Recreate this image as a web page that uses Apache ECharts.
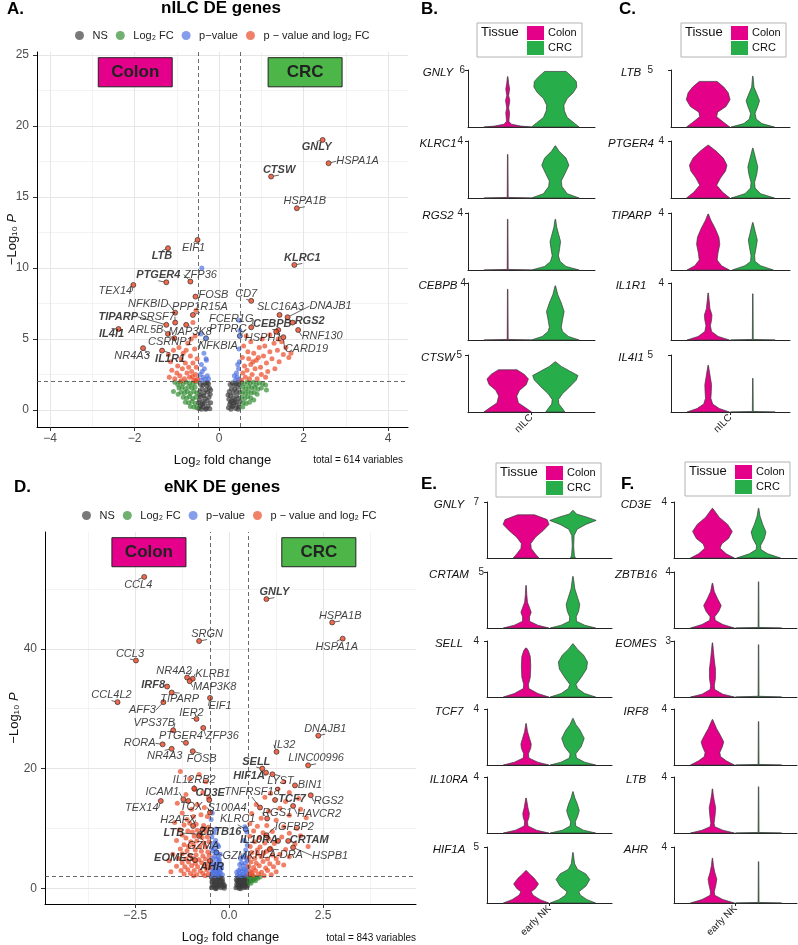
<!DOCTYPE html>
<html>
<head>
<meta charset="utf-8">
<script src="https://cdn.jsdelivr.net/npm/echarts@6/dist/echarts.min.js"></script>
<style>
html, body { margin: 0; padding: 0; background: #fff; }
#main { width: 798px; height: 945px; }
</style>
</head>
<body>
<div id="main"></div>
<script>
// ---- volcano A (nILC): [log2FC, -log10 P], one array per EnhancedVolcano colour class
const nilcNS = [
  [-0.48,0.1],[-0.45,0.3],[-0.42,0.05],[-0.38,0.2],[-0.35,0.45],[-0.3,0.1],[-0.26,0.3],[-0.22,0.08],[-0.2,0.5],
  [-0.47,0.7],[-0.43,0.95],[-0.39,0.6],[-0.33,0.8],[-0.28,0.65],[-0.24,0.9],[-0.21,1.1],
  [-0.46,1.3],[-0.41,1.5],[-0.36,1.2],[-0.31,1.4],[-0.27,1.25],[-0.23,1.55],
  [-0.44,1.8],[-0.38,1.75],[-0.34,1.9],[-0.29,1.7],[-0.25,1.85],[-0.2,1.4],
  [-0.4,0.4],[-0.32,0.05],[-0.49,0.5],[-0.36,1.0],[-0.28,1.95],[-0.46,1.05],
  [0.22,0.15],[0.25,0.4],[0.28,0.05],[0.31,0.25],[0.35,0.5],[0.39,0.1],[0.43,0.35],[0.47,0.2],[0.5,0.6],
  [0.23,0.75],[0.27,1.0],[0.3,0.65],[0.34,0.85],[0.38,0.7],[0.42,1.0],[0.46,0.8],
  [0.24,1.3],[0.29,1.5],[0.33,1.2],[0.37,1.45],[0.41,1.3],[0.45,1.6],[0.49,1.25],
  [0.26,1.8],[0.31,1.9],[0.36,1.75],[0.4,1.85],[0.44,1.95],[0.48,1.8],
  [0.33,0.3],[0.4,0.55],[0.27,0.55],[0.45,0.05],[0.21,1.05]
];
const nilcFC = [
  [-1.05,1.95],[-0.98,1.8],[-0.92,1.95],[-0.85,1.85],[-0.78,1.97],[-0.7,1.9],[-0.62,1.85],[-0.55,1.95],
  [-0.95,1.55],[-0.88,1.6],[-0.8,1.5],[-0.72,1.65],[-0.65,1.55],[-0.57,1.6],
  [-0.9,1.25],[-0.82,1.2],[-0.75,1.3],[-0.68,1.15],[-0.6,1.3],[-0.53,1.2],
  [-0.85,0.9],[-0.77,0.85],[-0.7,0.95],[-0.62,0.8],[-0.55,0.9],[-0.8,0.55],[-0.72,0.5],[-0.64,0.6],[-0.56,0.45],
  [-0.68,0.25],[-0.6,0.2],[-0.53,0.15],[-1.08,1.3],[-0.97,1.1],
  [0.53,1.95],[0.6,1.85],[0.67,1.97],[0.74,1.88],[0.81,1.95],[0.88,1.8],[0.95,1.9],[1.03,1.85],[1.1,1.75],
  [0.56,1.6],[0.63,1.5],[0.7,1.65],[0.77,1.55],[0.84,1.6],[0.92,1.45],[1.0,1.55],
  [0.55,1.25],[0.62,1.15],[0.69,1.3],[0.76,1.2],[0.83,1.25],[0.9,1.1],
  [0.54,0.9],[0.61,0.8],[0.68,0.95],[0.75,0.85],[0.82,0.7],[0.57,0.5],[0.64,0.45],[0.72,0.55],[0.56,0.2],[1.12,1.4]
];
const nilcP = [
  [-0.43,2.1],[-0.38,2.3],[-0.33,2.15],[-0.28,2.4],[-0.4,2.7],[-0.35,2.9],[-0.42,3.2],[-0.3,3.5],[-0.36,4.0],
  [-0.41,10.0],[-0.43,5.35],[-0.31,3.6],[-0.25,2.2],[-0.45,2.5],
  [0.38,2.1],[0.43,2.3],[0.47,2.15],[0.41,2.6],[0.46,2.9],[0.44,3.2],[0.48,3.4],[0.47,4.3],[0.49,5.6],[0.48,6.3],[0.36,2.4]
];
const nilcBoth = [
  [-1.18,2.3],[-1.12,2.8],[-1.15,3.4],[-1.05,2.2],[-1.0,2.6],[-0.98,3.1],[-0.93,2.4],[-0.9,3.6],[-0.87,2.9],
  [-0.82,2.2],[-0.8,3.3],[-0.78,4.2],[-0.76,2.6],[-0.72,3.0],[-0.7,2.3],[-0.68,3.8],[-0.65,2.7],[-0.62,3.3],
  [-0.6,2.1],[-0.58,4.3],[-0.56,2.5],[-0.54,3.0],[-0.52,3.6],[-0.51,2.2],[-0.57,5.2],[-0.62,6.15],[-0.95,4.4],
  [-1.08,4.2],[-0.85,4.0],[-0.74,4.7],[-0.66,5.0],[-0.9,2.05],[-0.55,2.05],[-0.63,2.35],[-1.2,3.9],[-0.55,7.0],
  [0.53,2.1],[0.56,2.6],[0.6,3.1],[0.62,2.3],[0.66,2.8],[0.7,3.6],[0.72,2.2],[0.75,3.2],[0.78,2.5],[0.82,4.0],
  [0.85,2.9],[0.88,3.5],[0.9,2.2],[0.95,4.4],[0.98,3.0],[1.0,2.5],[1.05,3.8],[1.08,4.5],[1.12,3.3],[1.15,2.7],
  [1.2,4.1],[1.25,3.6],[1.3,4.7],[1.32,2.9],[1.38,4.2],[1.42,3.4],[1.48,4.8],[1.52,3.9],[1.58,4.4],[1.65,3.7],
  [1.7,4.0],[0.58,4.5],[0.68,4.1],[0.8,3.4],[0.93,3.7],[1.1,2.3],[0.64,5.2],[1.2,5.3],[1.4,5.0],[0.55,3.7],
  [1.02,5.0],[0.75,4.8]
];
const nilcLabeled = [
  ['GNLY',2.45,19.01],['HSPA1A',2.59,17.37],['CTSW',1.23,16.43],['HSPA1B',1.84,14.2],['EIF1',-0.51,11.97],
  ['LTB',-1.21,11.39],['KLRC1',1.78,10.21],['PTGER4',-1.25,8.99],['ZFP36',-0.68,9.04],['TEX14',-2.03,8.8],
  ['FOSB',-0.56,7.98],['CD7',0.76,7.68],['NFKBID',-1.04,6.85],['PPP1R15A',-0.62,6.69],['SLC16A3',1.43,6.69],
  ['DNAJB1',1.62,6.53],['TIPARP',-1.25,5.99],['SRSF7',-1.04,6.15],['RGS2',1.74,6.15],['FCER1G',0.76,5.82],
  ['CEBPB',1.4,5.63],['HSPH1',1.35,5.51],['RNF130',1.87,5.63],['CARD19',1.52,5.12],['ARL5B',-1.21,5.35],
  ['MAP3K8',-0.78,5.99],['PTPRC',0.49,5.21],['IL4I1',-2.38,5.7],['CSRNP1',-1.06,5.05],['NFKBIA',-0.31,5.05],
  ['NR4A3',-1.8,4.35],['IL1R1',-1.35,4.18]
];

// ---- volcano D (eNK)
const enkNS = [
  [-0.47,0.1],[-0.42,0.3],[-0.37,0.05],[-0.32,0.2],[-0.27,0.4],[-0.22,0.1],[-0.16,0.3],[-0.13,0.05],
  [-0.45,0.6],[-0.4,0.8],[-0.35,0.55],[-0.3,0.75],[-0.25,0.6],[-0.2,0.85],[-0.15,0.65],
  [-0.46,1.1],[-0.41,1.3],[-0.36,1.05],[-0.31,1.25],[-0.26,1.15],[-0.21,1.4],[-0.17,1.1],
  [-0.44,1.6],[-0.38,1.8],[-0.33,1.55],[-0.28,1.75],[-0.23,1.9],[-0.18,1.6],[-0.48,1.9],[-0.35,-0.05],[-0.12,0.45],[-0.29,1.95],
  [0.18,0.1],[0.22,0.35],[0.26,0.05],[0.3,0.25],[0.34,0.5],[0.38,0.1],[0.42,0.3],[0.46,0.15],[0.49,0.45],
  [0.2,0.7],[0.24,0.9],[0.28,0.6],[0.32,0.8],[0.36,0.65],[0.4,0.95],[0.44,0.75],[0.48,0.9],
  [0.21,1.2],[0.25,1.4],[0.29,1.1],[0.33,1.35],[0.37,1.2],[0.41,1.5],[0.45,1.3],
  [0.23,1.75],[0.27,1.9],[0.31,1.65],[0.35,1.85],[0.39,1.7],[0.43,1.95],[0.47,1.6],[0.5,1.2],[0.3,-0.05],[0.19,1.5]
];
const enkFC = [
  [0.52,1.9],[0.57,1.7],[0.62,1.95],[0.66,1.6],[0.71,1.85],[0.76,1.7],[0.55,1.4],[0.6,1.25],[0.65,1.45],
  [0.53,1.05],[0.58,0.85],[0.82,1.9],[0.7,1.3]
];
const enkP = [
  [-0.48,2.2],[-0.43,2.5],[-0.38,2.1],[-0.33,2.4],[-0.28,2.2],[-0.23,2.6],[-0.46,3.0],[-0.4,3.3],[-0.35,2.9],
  [-0.3,3.2],[-0.25,3.0],[-0.2,3.4],[-0.47,3.9],[-0.42,4.3],[-0.37,3.8],[-0.32,4.1],[-0.27,4.5],[-0.22,3.9],
  [-0.45,5.0],[-0.39,5.4],[-0.34,4.9],[-0.29,5.3],[-0.24,5.7],[-0.44,6.2],[-0.38,6.6],[-0.33,6.1],[-0.28,7.0],
  [-0.42,7.5],[-0.36,8.0],[-0.31,7.3],[-0.46,8.6],[-0.4,9.3],[-0.35,9.9],[-0.18,2.3],[-0.3,2.7],[-0.42,2.8],
  [-0.26,4.8],[-0.47,6.8],[-0.48,11.5],[-0.45,12.6],
  [0.22,2.2],[0.27,2.5],[0.32,2.1],[0.37,2.4],[0.42,2.2],[0.47,2.6],[0.25,3.0],[0.3,3.3],[0.35,2.9],[0.4,3.2],
  [0.45,3.0],[0.49,3.5],[0.28,4.0],[0.33,4.3],[0.38,3.8],[0.43,4.2],[0.48,4.6],[0.36,5.2],[0.41,5.6],[0.46,5.0],
  [0.44,6.4],[0.48,7.2],[0.4,8.0],[0.47,9.4],[0.42,10.3],[0.2,2.7],[0.3,5.0]
];
const enkBoth = [
  [-1.3,19.5],[-1.05,18.3],[-0.8,19.0],[-0.62,17.8],[-0.92,16.5],[-1.15,15.7],[-0.7,16.0],[-0.55,15.2],
  [-1.38,14.2],[-0.85,14.0],[-1.0,13.2],[-0.66,13.5],[-1.25,12.6],[-0.75,12.3],[-0.58,12.0],[-0.95,12.0],[-1.12,11.5],
  [-1.45,11.0],[-1.2,10.6],[-1.05,10.9],[-0.88,10.7],[-0.68,10.5],[-0.55,10.2],[-1.32,9.8],[-1.1,9.6],[-0.98,9.4],
  [-0.85,9.7],[-0.62,9.5],[-1.25,8.9],[-1.15,8.4],[-0.93,8.7],[-0.72,8.5],[-0.58,8.6],[-1.4,8.0],[-1.02,7.8],
  [-0.86,7.9],[-0.68,7.6],[-0.54,7.8],[-1.2,7.3],[-1.08,7.0],[-0.95,7.2],[-0.78,7.0],[-0.62,6.9],[-1.3,6.6],
  [-1.12,6.3],[-0.9,6.4],[-0.74,6.2],[-0.57,6.1],
  [-1.5,5.7],[-1.25,5.8],[-1.05,5.5],[-0.88,5.6],[-0.7,5.4],[-0.53,5.5],[-1.35,5.0],[-1.15,4.9],[-0.98,5.0],
  [-0.8,4.8],[-0.63,4.9],[-1.25,4.3],[-1.08,4.4],[-0.9,4.2],[-0.73,4.3],[-0.56,4.1],[-1.4,3.7],[-1.18,3.6],
  [-1.0,3.8],[-0.84,3.6],[-0.66,3.7],[-0.52,3.5],[-1.28,3.0],[-1.1,3.1],[-0.93,3.0],[-0.77,2.9],[-0.6,3.1],
  [-1.2,2.4],[-1.03,2.5],[-0.86,2.3],[-0.7,2.5],[-0.55,2.4],[-0.95,2.1],[-0.64,2.1],[-1.6,4.6],[-1.55,2.8],
  [1.45,17.8],[1.3,16.6],[1.6,16.0],[1.1,15.9],[1.85,15.0],[0.95,15.2],[1.5,14.5],[0.72,14.0],[1.35,13.4],
  [1.9,13.2],[1.05,12.9],[0.6,12.5],[1.6,12.2],[0.85,11.7],[1.25,11.4],[2.05,11.8],
  [0.55,10.8],[0.75,10.4],[1.0,10.5],[1.45,10.3],[1.8,10.0],[0.65,9.6],[0.9,9.3],[1.15,9.5],[1.6,9.2],
  [0.55,8.7],[0.8,8.5],[1.05,8.3],[1.4,8.6],[1.9,8.8],[0.68,7.8],[0.95,7.6],[1.2,7.5],[1.75,7.4],[0.56,7.0],
  [0.82,6.9],[1.1,6.7],[1.5,6.5],[2.1,7.0],
  [0.6,6.0],[0.75,5.8],[0.92,5.9],[1.15,5.6],[1.35,5.7],[0.53,5.2],[0.68,5.0],[0.85,5.3],[1.02,4.9],[1.25,5.0],
  [1.6,5.3],[0.58,4.4],[0.72,4.2],[0.9,4.5],[1.08,4.1],[1.3,4.3],[0.52,3.7],[0.65,3.5],[0.8,3.8],[0.97,3.4],
  [1.18,3.6],[1.45,3.9],[0.57,2.9],[0.7,3.0],[0.86,2.7],[1.02,3.0],[1.25,2.8],[0.53,2.3],[0.64,2.2],[0.78,2.4],
  [0.93,2.1],[1.12,2.3],[0.6,2.6],[0.75,6.4],[1.0,6.2]
];
const enkLabeled = [
  ['CCL4',-2.26,52.0],['GNLY',0.99,48.3],['HSPA1B',2.74,44.4],['HSPA1A',3.02,41.7],['SRGN',-0.8,41.3],
  ['CCL3',-2.48,38.05],['NR4A2',-1.12,35.2],['KLRB1',-0.97,35.0],['MAP3K8',-1.05,34.6],['IRF8',-1.65,33.7],
  ['CCL4L2',-2.97,31.1],['TIPARP',-1.53,32.7],['AFF3',-1.75,31.1],['EIF1',-0.51,31.8],['IER2',-0.87,28.3],
  ['VPS37B',-1.49,26.4],['ZFP36',-0.69,26.8],['PTGER4',-1.15,24.3],['RORA',-1.77,24.05],['NR4A3',-1.53,23.3],
  ['FOSB',-0.97,22.9],['DNAJB1',2.37,25.5],['IL32',1.26,22.8],['LINC00996',2.1,20.55],['SELL',0.88,20.0],
  ['HIF1A',0.98,19.33],['LYST',1.15,19.05],['BIN1',1.75,17.2],['TNFRSF18',0.82,13.5],['RGS2',2.17,15.55],
  ['TCF7',1.22,14.77],['HAVCR2',1.7,13.77],['RGS1',1.01,11.67],['IL12RB2',-0.93,16.67],['CD3E',-0.53,14.77],
  ['ICAM1',-1.22,14.88],['TOX',-1.09,14.6],['S100A4',-0.51,12.67],['TEX14',-1.82,14.6],['H2AFX',-0.96,10.43],
  ['KLRC1',0.44,9.88],['LTB',-0.78,9.05],['ZBTB16',-0.71,9.88],['IGFBP2',0.99,8.88],['IL10RA',1.3,7.93],
  ['CRTAM',1.57,7.93],['GZMA',-0.8,8.77],['GZMK',-0.34,6.0],['HLA-DRA',1.08,6.55],['HSPB1',1.7,6.83],
  ['EOMES',-0.91,4.72],['AHR',-0.51,4.6]
];

// ---- violins: each profile is [expression, half width relative to the widest violin]
const nilcGenesB = ['GNLY', 'KLRC1', 'RGS2', 'CEBPB', 'CTSW'];
const nilcMaxB = [6, 4, 4, 4, 5];
const nilcColonB = [
  [[0,1],[0.1,0.55],[0.3,0.15],[0.6,0.05],[1.5,0.08],[2,0.04],[2.8,0.09],[3.3,0.04],[4,0.08],[4.6,0.04],[5.3,0.01]],
  [[0,1],[0.04,0.02],[3.05,0.01]],
  [[0,1],[0.04,0.02],[3.56,0.01]],
  [[0,1],[0.04,0.02],[3.56,0.01]],
  [[0,1],[0.3,0.8],[0.8,0.45],[1.4,0.38],[1.9,0.5],[2.4,0.78],[2.9,0.87],[3.3,0.7],[3.7,0.39]]
];
const nilcCrcB = [
  [[0,1],[0.4,0.8],[1.0,0.5],[1.7,0.38],[2.3,0.36],[3.0,0.5],[3.6,0.75],[4.2,0.9],[4.8,0.88],[5.3,0.7],[5.85,0.45]],
  [[0,1],[0.3,0.5],[0.8,0.28],[1.2,0.25],[1.7,0.4],[2.3,0.57],[2.8,0.45],[3.3,0.15],[3.66,0.01]],
  [[0,1],[0.25,0.45],[0.6,0.2],[1.0,0.13],[1.5,0.18],[2.0,0.22],[2.5,0.14],[3.0,0.06],[3.56,0.01]],
  [[0,1],[0.25,0.55],[0.6,0.3],[0.9,0.25],[1.4,0.3],[2.0,0.37],[2.6,0.25],[3.2,0.1],[3.8,0.01]],
  [[0,0.4],[0.3,0.3],[0.7,0.15],[1.1,0.13],[1.6,0.3],[2.2,0.6],[2.8,0.88],[3.2,0.95],[3.6,0.6],[4.0,0.25],[4.4,0.01]]
];
const nilcGenesC = ['LTB', 'PTGER4', 'TIPARP', 'IL1R1', 'IL4I1'];
const nilcMaxC = [5, 4, 4, 4, 5];
const nilcColonC = [
  [[0,0.97],[0.4,0.7],[0.9,0.38],[1.3,0.42],[1.8,0.8],[2.4,0.98],[3.0,0.9],[3.5,0.7],[4.0,0.4]],
  [[0,0.97],[0.4,0.65],[0.9,0.38],[1.4,0.55],[1.9,0.78],[2.3,0.84],[2.8,0.68],[3.3,0.35],[3.7,0.02]],
  [[0,0.95],[0.3,0.6],[0.7,0.4],[1.2,0.44],[1.8,0.52],[2.3,0.48],[2.9,0.32],[3.5,0.12],[3.93,0.01]],
  [[0,0.95],[0.25,0.45],[0.6,0.15],[1.0,0.1],[1.4,0.15],[1.75,0.17],[2.2,0.08],[2.8,0.04],[3.3,0.01]],
  [[0,0.95],[0.3,0.5],[0.7,0.2],[1.2,0.12],[1.8,0.14],[2.4,0.15],[3.0,0.1],[3.6,0.05],[4.1,0.01]]
];
const nilcCrcC = [
  [[0,0.97],[0.3,0.4],[0.7,0.15],[1.2,0.1],[1.8,0.22],[2.3,0.3],[2.8,0.2],[3.5,0.05],[4.45,0.01]],
  [[0,0.97],[0.3,0.35],[0.7,0.1],[1.1,0.08],[1.7,0.18],[2.2,0.22],[2.8,0.12],[3.5,0.01]],
  [[0,0.92],[0.3,0.35],[0.6,0.1],[1.0,0.08],[1.6,0.15],[2.1,0.2],[2.6,0.12],[3.33,0.01]],
  [[0,1],[0.04,0.02],[3.24,0.01]],
  [[0,1],[0.04,0.02],[2.95,0.01]]
];
const enkGenesE = ['GNLY', 'CRTAM', 'SELL', 'TCF7', 'IL10RA', 'HIF1A'];
const enkMaxE = [7, 5, 4, 4, 4, 5];
const enkColonE = [
  [[0,0.55],[0.5,0.4],[1.2,0.22],[1.8,0.2],[2.6,0.4],[3.4,0.72],[4.2,0.98],[4.8,0.9],[5.4,0.36]],
  [[0,0.97],[0.25,0.5],[0.6,0.15],[1.0,0.15],[1.4,0.22],[1.8,0.15],[2.3,0.06],[3.0,0.03],[3.8,0.01]],
  [[0,0.97],[0.25,0.5],[0.6,0.12],[0.9,0.1],[1.4,0.18],[2.2,0.2],[2.9,0.18],[3.3,0.1],[3.5,0.02]],
  [[0,0.97],[0.2,0.5],[0.5,0.12],[0.8,0.1],[1.2,0.2],[1.5,0.22],[1.9,0.15],[2.4,0.06],[2.96,0.01]],
  [[0,0.97],[0.2,0.45],[0.5,0.08],[0.8,0.06],[1.1,0.12],[1.4,0.14],[1.8,0.08],[2.5,0.01]],
  [[0,0.97],[0.3,0.6],[0.7,0.3],[1.0,0.22],[1.3,0.4],[1.7,0.53],[2.2,0.35],[2.6,0.15],[2.9,0.01]]
];
const enkCrcE = [
  [[0,0.1],[0.3,0.06],[1.5,0.03],[2.8,0.05],[3.6,0.18],[4.2,0.55],[4.7,0.99],[5.1,0.6],[5.5,0.15],[5.95,0.01]],
  [[0,0.97],[0.25,0.5],[0.6,0.15],[1.0,0.14],[1.5,0.24],[2.1,0.29],[2.7,0.2],[3.5,0.08],[4.6,0.01]],
  [[0,0.97],[0.25,0.5],[0.6,0.2],[0.9,0.13],[1.4,0.35],[2.0,0.58],[2.5,0.62],[3.0,0.45],[3.4,0.2],[3.8,0.01]],
  [[0,0.97],[0.2,0.5],[0.5,0.15],[0.8,0.12],[1.3,0.35],[1.9,0.48],[2.5,0.3],[2.9,0.12],[3.33,0.01]],
  [[0,0.97],[0.2,0.45],[0.5,0.12],[0.8,0.1],[1.2,0.2],[1.6,0.27],[2.1,0.18],[2.5,0.08],[2.95,0.01]],
  [[0,0.97],[0.3,0.6],[0.7,0.32],[1.0,0.25],[1.5,0.55],[2.1,0.72],[2.6,0.55],[3.0,0.2],[3.5,0.07],[4.5,0.01]]
];
const enkGenesF = ['CD3E', 'ZBTB16', 'EOMES', 'IRF8', 'LTB', 'AHR'];
const enkMaxF = [4, 4, 3, 4, 4, 4];
const enkColonF = [
  [[0,0.95],[0.3,0.6],[0.7,0.33],[1.0,0.4],[1.4,0.7],[1.9,0.86],[2.4,0.66],[2.9,0.3],[3.55,0.01]],
  [[0,0.95],[0.25,0.45],[0.55,0.12],[0.8,0.1],[1.2,0.28],[1.6,0.38],[2.1,0.22],[2.6,0.08],[3.2,0.01]],
  [[0,0.95],[0.15,0.45],[0.4,0.1],[0.6,0.08],[1.0,0.13],[1.5,0.13],[2.0,0.08],[2.5,0.04],[2.9,0.01]],
  [[0,0.95],[0.3,0.6],[0.6,0.35],[0.9,0.32],[1.3,0.43],[1.65,0.49],[2.1,0.35],[2.6,0.18],[3.25,0.01]],
  [[0,0.95],[0.2,0.45],[0.45,0.1],[0.7,0.07],[1.2,0.11],[1.8,0.14],[2.3,0.08],[2.8,0.03],[3.15,0.01]],
  [[0,0.95],[0.25,0.45],[0.55,0.1],[0.8,0.08],[1.3,0.15],[1.7,0.19],[2.2,0.1],[2.7,0.04],[3.2,0.01]]
];
const enkCrcF = [
  [[0,0.95],[0.3,0.4],[0.6,0.1],[0.9,0.09],[1.4,0.25],[1.85,0.32],[2.4,0.18],[3.0,0.06],[3.55,0.01]],
  [[0,1],[0.04,0.02],[3.3,0.01]],
  [[0,1],[0.04,0.02],[2.8,0.01]],
  [[0,1],[0.04,0.02],[3.1,0.01]],
  [[0,1],[0.04,0.02],[3.3,0.01]],
  [[0,1],[0.04,0.02],[2.95,0.01]]
];

// ---- layout (pixel offsets of gene labels from their points, annotation boxes in data units)
const nilcLabelOffset = {
  GNLY:[-6,7], HSPA1A:[29,-2], CTSW:[8,-7], HSPA1B:[8,-7], EIF1:[-4,8], LTB:[-6,8], KLRC1:[8,-7],
  PTGER4:[-8,-7], ZFP36:[10,-7], TEX14:[-18,6], FOSB:[18,-2], CD7:[-5,-7], NFKBID:[-27,-9],
  PPP1R15A:[7,-8], SLC16A3:[1,-8], DNAJB1:[43,-11], TIPARP:[-48,-8], SRSF7:[-18,-6], RGS2:[17,-2],
  FCER1G:[-20,-8], CEBPB:[-6,-6], HSPH1:[-13,6], RNF130:[24,6], CARD19:[23,12], ARL5B:[-22,-4],
  MAP3K8:[4,7], PTPRC:[-12,-7], IL4I1:[-7,5], CSRNP1:[-4,4], NFKBIA:[12,8], NR4A3:[-11,8], IL1R1:[8,8]
};
const enkLabelOffset = {
  CCL4:[-6,8], GNLY:[8,-7], HSPA1B:[8,-7], HSPA1A:[-6,8], SRGN:[8,-7], CCL3:[-6,-7], NR4A2:[-13,-7],
  KLRB1:[20,-5], MAP3K8:[25,6], IRF8:[-14,-2], CCL4L2:[-6,-7], TIPARP:[8,6], AFF3:[-21,8], EIF1:[10,8],
  IER2:[-5,-6], VPS37B:[-19,-7], ZFP36:[19,8], PTGER4:[-5,-7], RORA:[-23,-1], NR4A3:[-7,7], FOSB:[9,8],
  DNAJB1:[7,-7], IL32:[8,-7], LINC00996:[8,-7], SELL:[-6,-7], HIF1A:[-17,3], LYST:[8,7], BIN1:[15,0],
  TNFRSF18:[-8,-16], RGS2:[18,6], TCF7:[17,-1], HAVCR2:[26,8], RGS1:[10,-6], IL12RB2:[0,-9], CD3E:[1,-7],
  ICAM1:[-21,-7], TOX:[3,6], S100A4:[17,-5], TEX14:[-19,7], H2AFX:[-15,-6], KLRC1:[-8,-10], LTB:[-26,-1],
  ZBTB16:[18,3], IGFBP2:[28,-8], IL10RA:[-19,-1], CRTAM:[21,-1], GZMA:[4,10], GZMK:[22,3],
  'HLA-DRA':[9,6], HSPB1:[37,8], EOMES:[-21,-2], AHR:[2,6]
};
const nilcBoxes = [['Colon', -2.86, -1.11, 22.75, 24.8], ['CRC', 1.16, 2.91, 22.75, 24.8]];
const enkBoxes = [['Colon', -3.12, -1.15, 53.7, 58.55], ['CRC', 1.4, 3.37, 53.7, 58.55]];

const FONT = "'Liberation Sans', Arial, Helvetica, sans-serif";
const FC_CUT = 0.5, P_CUT = 2;
const CLASS_NAMES = ['NS', 'Log\u2082 FC', 'p\u2212value', 'p \u2212 value and log\u2082 FC'];
const CLASS_COLORS = ['#3a3a3a', '#2f8a2f', '#4b6fe0', '#ea4420'];
const TISSUE_COLORS = ['#e5008a', '#27ae4a'];
const BOX_COLORS = { Colon: '#e4008b', CRC: '#4cb748' };
const HALF = 0.225, DODGE = [0.775, 1.225];

const option = {
  animation: false,
  backgroundColor: '#fff',
  textStyle: { fontFamily: FONT },
  title: [], grid: [], xAxis: [], yAxis: [], legend: [], series: [], graphic: []
};

function pointClass(fc, p) {
  const big = Math.abs(fc) > FC_CUT, sig = p > P_CUT;
  return big && sig ? 3 : sig ? 2 : big ? 1 : 0;
}

function minus(s) { return String(s).replace('-', '\u2212'); }

function addVolcano(v) {
  const gi = option.grid.length;
  option.grid.push({ left: v.box[0], top: v.box[1], width: v.box[2], height: v.box[3] });
  option.xAxis.push({
    gridIndex: gi, type: 'value', min: v.xRange[0], max: v.xRange[1],
    name: 'Log\u2082 fold change', nameLocation: 'middle', nameGap: 27, nameMoveOverlap: false,
    nameTextStyle: { fontSize: 13, color: '#111' },
    axisLine: { onZero: false, lineStyle: { color: '#000', width: 1 } },
    axisTick: { customValues: v.xTicks, length: 4, lineStyle: { color: '#333' } },
    axisLabel: { customValues: v.xTicks, formatter: v.fmtX, fontSize: 12, color: '#4d4d4d', margin: 6 },
    splitLine: { show: false }
  });
  option.yAxis.push({
    gridIndex: gi, type: 'value', min: v.yRange[0], max: v.yRange[1],
    name: '\u2212Log\u2081\u2080 {i|P}', nameLocation: 'middle', nameGap: v.yNameGap, nameMoveOverlap: false,
    nameTextStyle: { fontSize: 13, color: '#111', rich: { i: { fontStyle: 'italic', fontSize: 13, color: '#111' } } },
    axisLine: { onZero: false, lineStyle: { color: '#000', width: 1 } },
    axisTick: { customValues: v.yTicks, length: 4, lineStyle: { color: '#333' } },
    axisLabel: { customValues: v.yTicks, fontSize: 12, color: '#4d4d4d', margin: 8 },
    splitLine: { show: false }
  });

  const gridLines = [].concat(
    v.xTicks.map(x => ({ xAxis: x, lineStyle: { width: 1 } })),
    v.xMinor.map(x => ({ xAxis: x, lineStyle: { width: 0.5 } })),
    v.yTicks.map(y => ({ yAxis: y, lineStyle: { width: 1 } })),
    v.yMinor.map(y => ({ yAxis: y, lineStyle: { width: 0.5 } }))
  );

  v.classes.forEach((pts, k) => {
    const s = {
      type: 'scatter', name: CLASS_NAMES[k], xAxisIndex: gi, yAxisIndex: gi,
      symbolSize: 5, silent: true, data: pts,
      itemStyle: { color: CLASS_COLORS[k], opacity: 0.68 }
    };
    if (k === 0) {
      s.markLine = { z: 0, silent: true, symbol: 'none', label: { show: false },
        lineStyle: { color: '#e6e6e6', type: 'solid' }, data: gridLines };
    }
    if (k === 1) {
      s.markArea = { z: 1, silent: true,
        label: { show: true, position: 'inside', fontSize: 17, fontWeight: 'bold', color: '#222' },
        data: v.boxes.map(b => [
          { name: b[0], xAxis: b[1], yAxis: b[3],
            itemStyle: { color: BOX_COLORS[b[0]], borderColor: '#222', borderWidth: 1, opacity: 1 } },
          { xAxis: b[2], yAxis: b[4] }
        ]) };
    }
    if (k === 3) {
      s.markLine = { silent: true, symbol: 'none', label: { show: false },
        lineStyle: { color: '#444', width: 0.8, type: [4, 3] },
        data: [{ xAxis: -FC_CUT }, { xAxis: FC_CUT }, { yAxis: P_CUT }] };
    }
    option.series.push(s);
  });

  option.series.push({
    type: 'scatter', xAxisIndex: gi, yAxisIndex: gi, symbolSize: 5, silent: true, z: 4,
    data: v.labeled.map(([g, fc, p]) => Object.assign(
      { name: g, value: [fc, p],
        itemStyle: { color: CLASS_COLORS[pointClass(fc, p)], borderColor: '#222', borderWidth: 0.8 } },
      v.bold.includes(g) ? { label: { fontWeight: 'bold' } } : {}
    )),
    label: { show: true, position: 'inside', formatter: '{b}', fontSize: 11, fontStyle: 'italic', color: '#111' },
    labelLine: { show: true, lineStyle: { color: '#222', width: 0.7 } },
    labelLayout: params => {
      const o = v.offsets[v.labeled[params.dataIndex][0]] || [0, 0];
      return { dx: o[0], dy: o[1] };
    }
  });

  option.legend.push({
    data: CLASS_NAMES.map(n => ({ name: n, icon: 'circle' })),
    left: v.legendAt[0], top: v.legendAt[1], padding: 0,
    itemWidth: 16, itemHeight: 9, itemGap: 8, selectedMode: false,
    textStyle: { fontSize: 11, color: '#222' }
  });
  option.graphic.push({
    type: 'text', x: v.captionAt[0], y: v.captionAt[1], silent: true,
    style: { text: v.caption, fontSize: 10, fontFamily: FONT, fill: '#111',
      align: 'right', verticalAlign: 'middle', textAlign: 'right', textVerticalAlign: 'middle' }
  });
}

function tissueLegend(x, y) {
  const txt = (tx, ty, text, size) => ({
    type: 'text', x: tx, y: ty,
    style: { text, fontSize: size, fontFamily: FONT, fill: '#111', verticalAlign: 'middle', textVerticalAlign: 'middle' }
  });
  return {
    type: 'group', x, y, silent: true,
    children: [
      { type: 'rect', shape: { x: 0, y: 0, width: 105, height: 34 }, style: { fill: '#fff', stroke: '#b3b3b3', lineWidth: 1 } },
      txt(4, 9, 'Tissue', 13),
      { type: 'rect', shape: { x: 50, y: 3, width: 17, height: 14 }, style: { fill: TISSUE_COLORS[0] } },
      { type: 'rect', shape: { x: 50, y: 18, width: 17, height: 14 }, style: { fill: TISSUE_COLORS[1] } },
      txt(71, 10, 'Colon', 11),
      txt(71, 25, 'CRC', 11)
    ]
  };
}

function addViolinColumn(c) {
  option.graphic.push(tissueLegend(c.legendAt[0], c.legendAt[1]));
  c.genes.forEach((gene, k) => {
    const gi = option.grid.length, last = k === c.genes.length - 1;
    option.grid.push({ left: c.left, top: c.tops[k], width: c.width, height: c.height });
    option.xAxis.push({
      gridIndex: gi, type: 'value', min: 0.4, max: 1.6,
      axisLine: { onZero: false, lineStyle: { color: '#222', width: 1 } },
      axisTick: last ? { customValues: [1], length: 3, lineStyle: { color: '#222' } } : { show: false },
      axisLabel: last ? { customValues: [1], formatter: () => c.cell, rotate: 45, fontSize: 10, color: '#222', margin: 4 } : { show: false },
      splitLine: { show: false }
    });
    option.yAxis.push({
      gridIndex: gi, type: 'value', min: 0, max: c.max[k],
      axisLine: { onZero: false, lineStyle: { color: '#222', width: 1 } },
      axisTick: { customValues: [c.max[k]], length: 3, lineStyle: { color: '#222' } },
      axisLabel: { customValues: [c.max[k]], fontSize: 10, color: '#222', margin: c.tickGap[k] },
      splitLine: { show: false }
    });
    const profiles = [c.colon[k], c.crc[k]];
    option.series.push({
      type: 'custom', xAxisIndex: gi, yAxisIndex: gi, silent: true,
      data: DODGE.map((x, g) => [x, g]),
      renderItem: (params, api) => {
        const xc = api.value(0), g = api.value(1), prof = profiles[g];
        const right = prof.map(([y, w]) => api.coord([xc + w * HALF, y]));
        const left = prof.slice().reverse().map(([y, w]) => api.coord([xc - w * HALF, y]));
        return {
          type: 'polygon', shape: { points: right.concat(left) },
          style: { fill: TISSUE_COLORS[g], stroke: '#3a3a3a', lineWidth: 0.7 }
        };
      }
    });
    option.graphic.push({
      type: 'text', x: c.labelX, y: c.tops[k] + 3, silent: true,
      style: { text: gene, fontSize: 11.5, fontStyle: 'italic', fontFamily: FONT, fill: '#111',
        align: 'center', verticalAlign: 'middle', textAlign: 'center', textVerticalAlign: 'middle' }
    });
  });
}

addVolcano({
  box: [37, 52, 371, 375], xRange: [-4.31, 4.47], yRange: [-1.2, 25.2],
  xTicks: [-4, -2, 0, 2, 4], xMinor: [-3, -1, 1, 3],
  yTicks: [0, 5, 10, 15, 20, 25], yMinor: [2.5, 7.5, 12.5, 17.5, 22.5],
  fmtX: v => minus(v), yNameGap: 18,
  classes: [nilcNS, nilcFC, nilcP, nilcBoth], labeled: nilcLabeled, offsets: nilcLabelOffset,
  bold: nilcGenesB.concat(nilcGenesC), boxes: nilcBoxes,
  legendAt: [75, 30], caption: 'total = 614 variables', captionAt: [403, 460]
});
addVolcano({
  box: [45, 532, 371, 373], xRange: [-4.9, 4.97], yRange: [-2.6, 59.5],
  xTicks: [-2.5, 0, 2.5], xMinor: [-3.75, -1.25, 1.25, 3.75],
  yTicks: [0, 20, 40], yMinor: [10, 30, 50],
  fmtX: v => minus(v.toFixed(1)), yNameGap: 24,
  classes: [enkNS, enkFC, enkP, enkBoth], labeled: enkLabeled, offsets: enkLabelOffset,
  bold: enkGenesE.concat(enkGenesF), boxes: enkBoxes,
  legendAt: [82, 510], caption: 'total = 843 variables', captionAt: [416, 938]
});

addViolinColumn({ genes: nilcGenesB, max: nilcMaxB, colon: nilcColonB, crc: nilcCrcB, cell: 'nILC',
  left: 468, width: 127, tops: [70, 141, 213, 283, 355], height: 57, labelX: 438,
  tickGap: [3, 5, 5, 2, 6], legendAt: [477, 23] });
addViolinColumn({ genes: nilcGenesC, max: nilcMaxC, colon: nilcColonC, crc: nilcCrcC, cell: 'nILC',
  left: 671, width: 119, tops: [70, 141, 213, 283, 355], height: 57, labelX: 631,
  tickGap: [18, 7, 7, 7, 18], legendAt: [681, 23] });
addViolinColumn({ genes: enkGenesE, max: enkMaxE, colon: enkColonE, crc: enkCrcE, cell: 'early NK',
  left: 487, width: 125, tops: [502, 572, 641, 709, 777, 847], height: 56, labelX: 449,
  tickGap: [8, 3, 8, 8, 8, 8], legendAt: [496, 463] });
addViolinColumn({ genes: enkGenesF, max: enkMaxF, colon: enkColonF, crc: enkCrcF, cell: 'early NK',
  left: 674, width: 123, tops: [502, 572, 641, 709, 777, 847], height: 56, labelX: 636,
  tickGap: [7, 3, 3, 7, 7, 7], legendAt: [685, 462] });

const heading = (text, left, top, align) => ({
  text, left, top, padding: 0, textAlign: align || 'left',
  textStyle: { fontSize: 17, fontWeight: 'bold', color: '#000', fontFamily: FONT }
});
option.title = [
  heading('A.', 7, 1), heading('nILC DE genes', 221, 0, 'center'),
  heading('B.', 421, 1), heading('C.', 619, 1),
  heading('D.', 14, 479), heading('eNK DE genes', 222, 479, 'center'),
  heading('E.', 421, 476), heading('F.', 621, 476)
];

const chart = echarts.init(document.getElementById('main'), null, { renderer: 'canvas' });
chart.setOption(option);
</script>
</body>
</html>
